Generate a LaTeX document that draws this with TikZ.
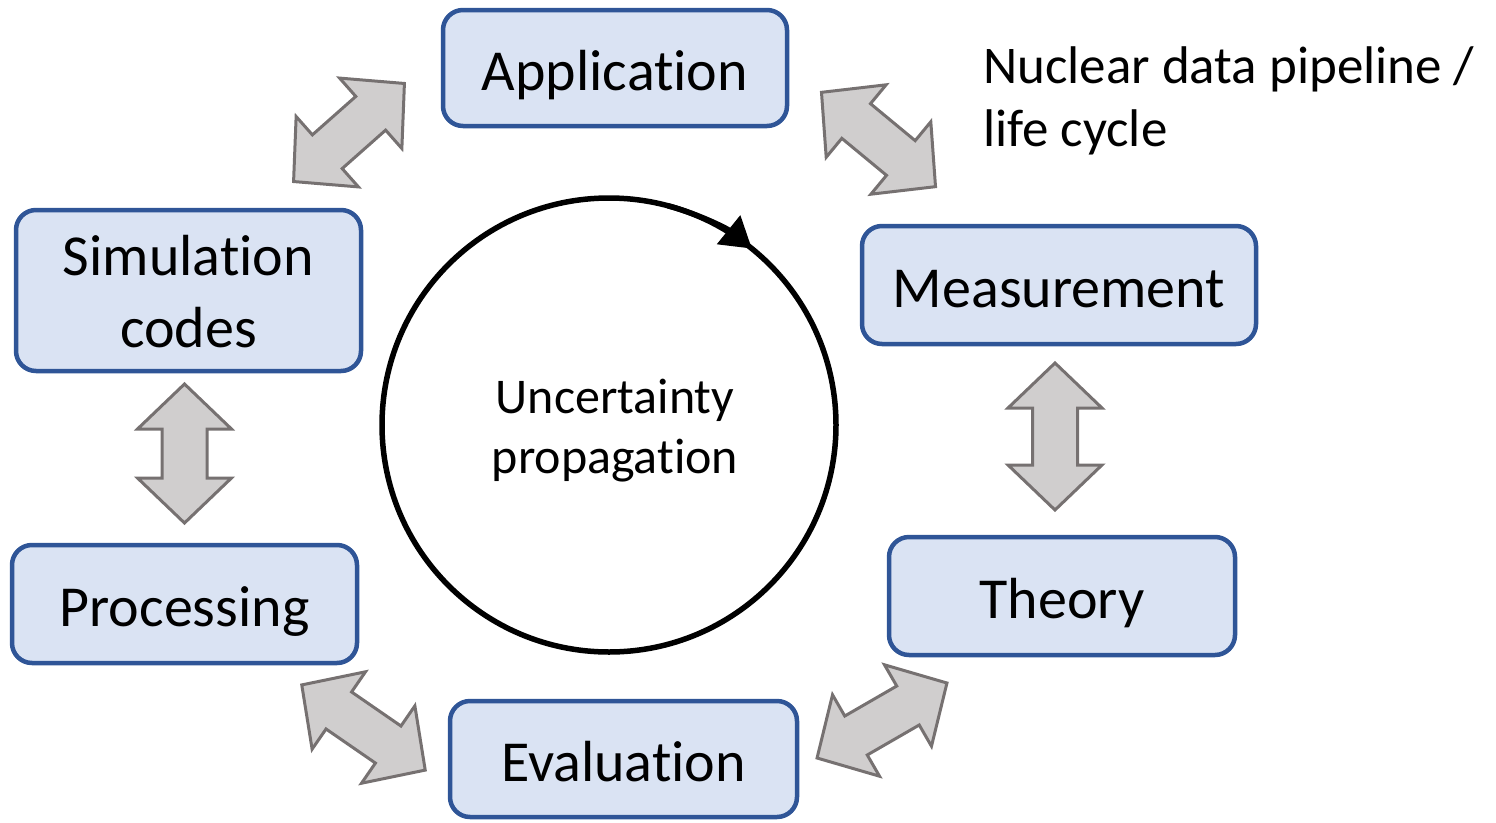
\documentclass[tikz,border=0pt]{standalone}
\usepackage{fontspec}
\setmainfont{Carlito}[Ligatures=NoCommon]
\usetikzlibrary{arrows.meta}
\definecolor{boxfill}{HTML}{DAE3F3}
\definecolor{boxline}{HTML}{2F5597}
\definecolor{arrfill}{HTML}{D0CECE}
\definecolor{arrline}{HTML}{767171}
\tikzset{
  stage/.style={draw=boxline, fill=boxfill, line width=4.5pt, rounded corners=20pt,
    inner sep=0pt, align=center, font=\fontsize{58}{72}\selectfont,
    text height=44pt, text depth=0pt},
  blockarr/.style={draw=arrline, fill=arrfill, line width=3pt, line join=miter},
}
\newcommand\blockarrow[3]{% center, angle, half length
  \path[blockarr, shift={#1}, rotate=#2] (#3,0) -- ({#3-45},47) -- ({#3-45},22.5)
    -- ({-#3+45},22.5) -- ({-#3+45},47) -- (-#3,0) -- ({-#3+45},-47)
    -- ({-#3+45},-22.5) -- ({#3-45},-22.5) -- ({#3-45},-47) -- cycle;}
\begin{document}
\begin{tikzpicture}[x=1pt,y=-1pt]
\useasboundingbox (0,0) rectangle (1496,822);
\node[stage, minimum width=344pt, minimum height=116pt] (app) at (615,68) {Application};
\node[stage, minimum width=394pt, minimum height=118pt] (meas) at (1059,285) {Measurement};
\node[stage, minimum width=346pt, minimum height=118pt] (theo) at (1062,596) {Theory};
\node[stage, minimum width=347pt, minimum height=116pt] (eval) at (623.5,759) {Evaluation};
\node[stage, minimum width=345pt, minimum height=118pt] (proc) at (184.5,604) {Processing};
\node[stage, minimum width=345pt, minimum height=161pt, text height=113pt] (sim) at (188.5,290.5) {Simulation\\codes};
\node[draw, circle, line width=5.5pt, minimum size=454pt, inner sep=0pt] (cyc) at (609,425) {};
\node[inner sep=0pt, align=center, font=\fontsize{50}{60}\selectfont, text height=90pt, text depth=0pt] (unc) at (615,428) {Uncertainty\\propagation};
\draw[line width=5.5pt, -{Triangle[length=30pt,width=36pt]}] (cyc.center) ++(-75:227) arc[start angle=-75, end angle=-51, radius=227];
\node[anchor=north west, inner sep=0pt, align=left, font=\fontsize{53}{63}\selectfont] (title) at (983,46) {Nuclear data pipeline /\\life cycle};
\blockarrow{(349,132.5)}{41.5}{74}
\blockarrow{(878.5,139.5)}{-39.6}{74}
\blockarrow{(184.5,453.5)}{90}{69.5}
\blockarrow{(1055,436.5)}{90}{73.5}
\blockarrow{(882,720.5)}{30}{75}
\blockarrow{(363.5,727.5)}{-34.6}{75}
\end{tikzpicture}
\end{document}
